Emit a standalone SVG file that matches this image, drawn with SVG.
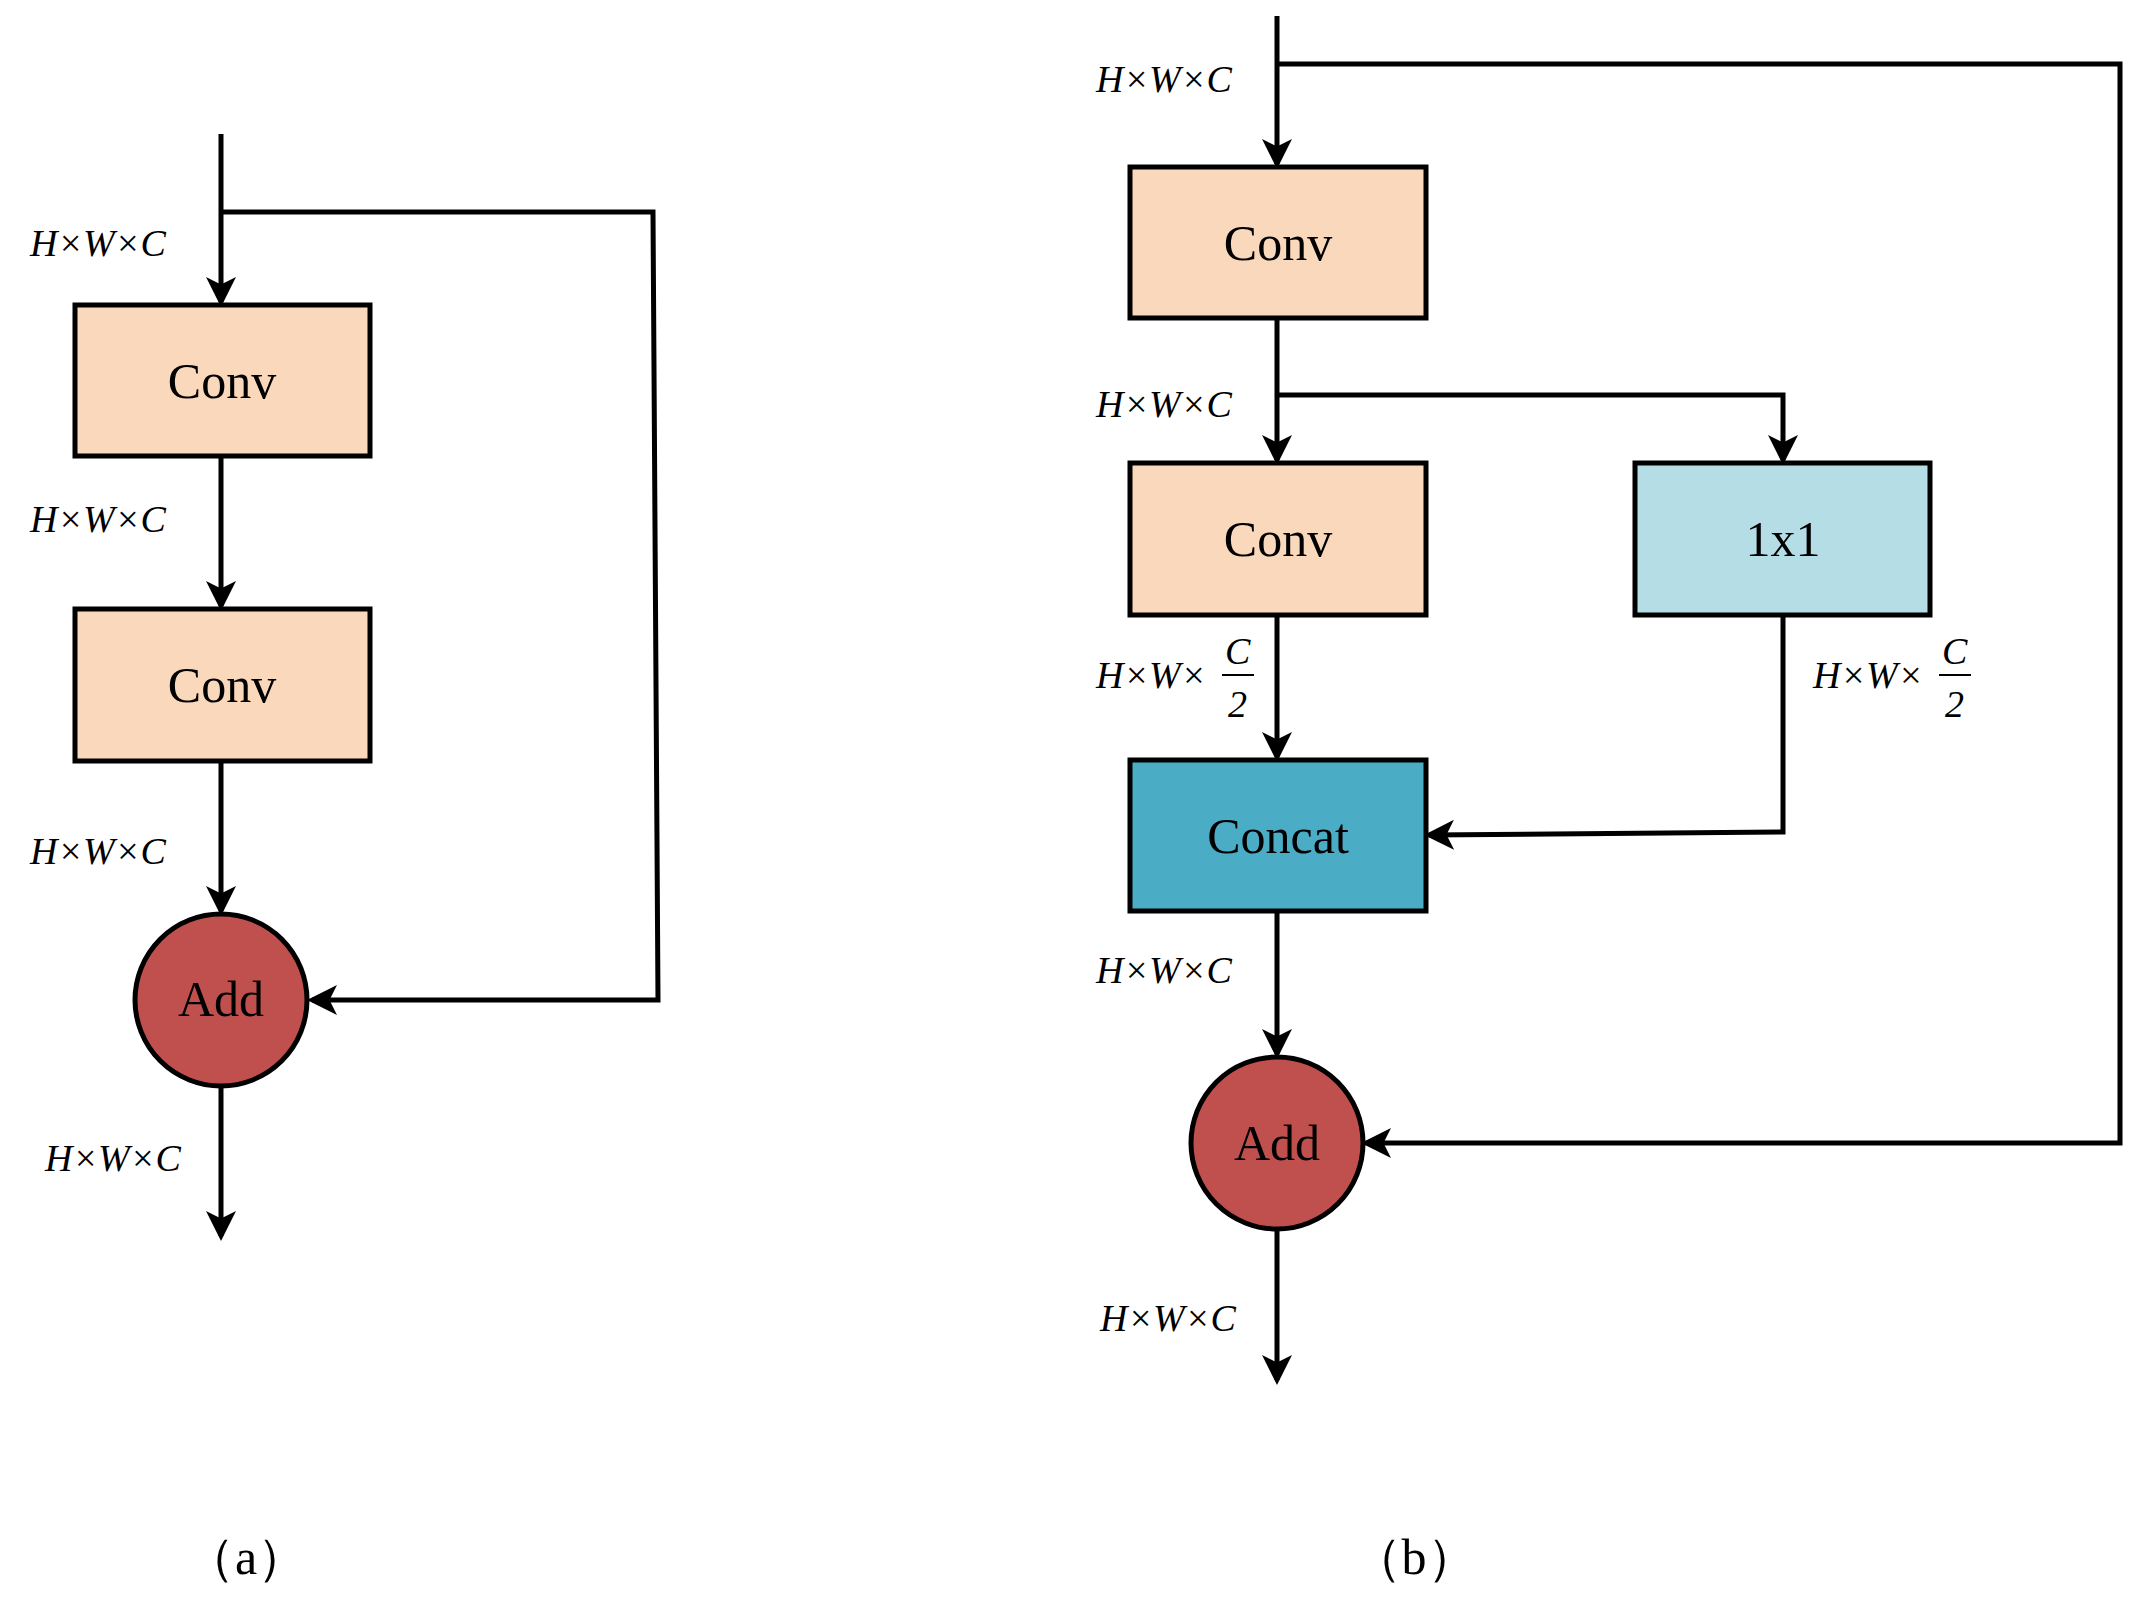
<svg xmlns="http://www.w3.org/2000/svg" width="2142" height="1608" viewBox="0 0 2142 1608">
<style>
.b{stroke:#000;stroke-width:5}
.conv{fill:#FAD8BC}.one{fill:#B5DDE6}.cat{fill:#4BACC6}.add{fill:#C0504D}
.t{font-family:"Liberation Serif",serif;font-size:50px;text-anchor:middle;fill:#000}
.l{font-family:"Liberation Serif",serif;font-style:italic;font-size:38px;fill:#000}
.c{fill:none;stroke:#000;stroke-width:5}
</style>
<defs><marker id="a" markerWidth="6" markerHeight="6" refX="5" refY="3" orient="auto" markerUnits="strokeWidth"><path d="M0,0L6,3L0,6L1.5,3z" fill="#000"/></marker></defs>
<rect width="2142" height="1608" fill="#fff"/>
<g id="connectors">
<path class="c" d="M221,134V302" marker-end="url(#a)"/>
<path class="c" d="M221,212H653L658,1000H312" marker-end="url(#a)"/>
<path class="c" d="M221,456V606" marker-end="url(#a)"/>
<path class="c" d="M221,761V911" marker-end="url(#a)"/>
<path class="c" d="M221,1086V1236" marker-end="url(#a)"/>
<path class="c" d="M1277,16V164" marker-end="url(#a)"/>
<path class="c" d="M1277,64H2120V1143H1366" marker-end="url(#a)"/>
<path class="c" d="M1277,318V460" marker-end="url(#a)"/>
<path class="c" d="M1277,395H1783V460" marker-end="url(#a)"/>
<path class="c" d="M1277,615V757" marker-end="url(#a)"/>
<path class="c" d="M1783,615V832L1429,835" marker-end="url(#a)"/>
<path class="c" d="M1277,911V1054" marker-end="url(#a)"/>
<path class="c" d="M1277,1229V1380" marker-end="url(#a)"/>
</g>
<g id="a_conv1"><rect class="b conv" x="75" y="305" width="295" height="151"/><text class="t" x="222" y="398">Conv</text></g>
<g id="a_conv2"><rect class="b conv" x="75" y="609" width="295" height="152"/><text class="t" x="222" y="702">Conv</text></g>
<g id="a_add"><circle class="b add" cx="221" cy="1000" r="86"/><text class="t" x="221" y="1016" font-size="46">Add</text></g>
<g id="b_conv1"><rect class="b conv" x="1130" y="167" width="296" height="151"/><text class="t" x="1278" y="260">Conv</text></g>
<g id="b_conv2"><rect class="b conv" x="1130" y="463" width="296" height="152"/><text class="t" x="1278" y="556">Conv</text></g>
<g id="b_1x1"><rect class="b one" x="1635" y="463" width="295" height="152"/><text class="t" x="1783" y="556">1x1</text></g>
<g id="b_concat"><rect class="b cat" x="1130" y="760" width="296" height="151"/><text class="t" x="1278" y="853">Concat</text></g>
<g id="b_add"><circle class="b add" cx="1277" cy="1143" r="86"/><text class="t" x="1277" y="1160" font-size="46">Add</text></g>
<g id="labels">
<text class="l" x="30" y="256">H×W×C</text>
<text class="l" x="30" y="532">H×W×C</text>
<text class="l" x="30" y="864">H×W×C</text>
<text class="l" x="45" y="1171">H×W×C</text>
<text class="l" x="1096" y="92">H×W×C</text>
<text class="l" x="1096" y="417">H×W×C</text>
<text class="l" x="1096" y="688">H×W×</text>
<text class="l" x="1225" y="664">C</text><line x1="1222" y1="675" x2="1254" y2="675" stroke="#000" stroke-width="2"/><text class="l" x="1228" y="717" font-style="normal">2</text>
<text class="l" x="1813" y="688">H×W×</text>
<text class="l" x="1942" y="664">C</text><line x1="1939" y1="675" x2="1971" y2="675" stroke="#000" stroke-width="2"/><text class="l" x="1945" y="717" font-style="normal">2</text>
<text class="l" x="1096" y="983">H×W×C</text>
<text class="l" x="1100" y="1331">H×W×C</text>
</g>
<text class="t" x="246" y="1574">（a）</text>
<text class="t" x="1414" y="1574">（b）</text>
</svg>
